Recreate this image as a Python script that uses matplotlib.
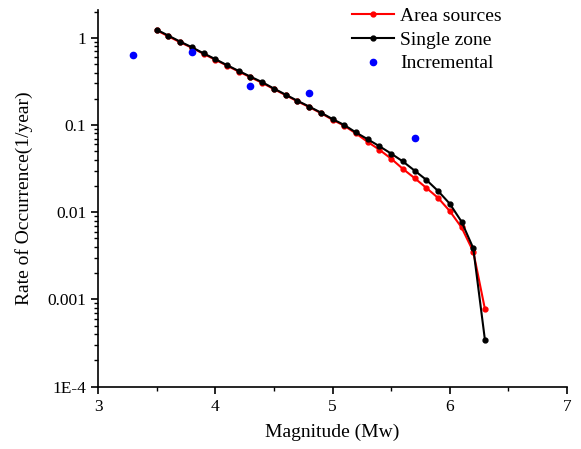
import matplotlib
matplotlib.use('Agg')
import matplotlib.pyplot as plt
from matplotlib.ticker import FixedLocator, FixedFormatter, LogLocator, MultipleLocator, NullFormatter

plt.rcParams['font.family'] = ['Liberation Serif', 'DejaVu Serif']

# magnitudes for the cumulative curves
mag = [3.5, 3.6, 3.7, 3.8, 3.9, 4.0, 4.1, 4.2, 4.3, 4.4, 4.5, 4.6, 4.7, 4.8, 4.9,
       5.0, 5.1, 5.2, 5.3, 5.4, 5.5, 5.6, 5.7, 5.8, 5.9, 6.0, 6.1, 6.2, 6.3]

area_sources = [1.22, 1.04, 0.89, 0.77, 0.655, 0.56, 0.48, 0.41, 0.353, 0.305,
                0.258, 0.22, 0.187, 0.161, 0.137, 0.115, 0.098, 0.080, 0.064,
                0.052, 0.0411, 0.0314, 0.0246, 0.019, 0.0146, 0.0103, 0.0067,
                0.00354, 0.00077]

single_zone = [1.24, 1.06, 0.906, 0.78, 0.664, 0.57, 0.486, 0.417, 0.359, 0.31,
               0.262, 0.223, 0.19, 0.163, 0.139, 0.117, 0.1, 0.0821, 0.0686,
               0.0571, 0.047, 0.0382, 0.030, 0.0235, 0.0175, 0.0125, 0.0078,
               0.00387, 0.00034]

# incremental rates
inc_mag = [3.3, 3.8, 4.3, 4.8, 5.7]
inc_rate = [0.634, 0.693, 0.279, 0.234, 0.0706]

ytick_vals = [1e-4, 1e-3, 1e-2, 1e-1, 1]
ytick_labels = ['1E-4', '0.001', '0.01', '0.1', '1']

fig = plt.figure(figsize=(5.81, 4.49), dpi=100)
ax = fig.add_axes([0.1687, 0.139, 0.8073, 0.8385])

ax.plot(mag, area_sources, color='red', lw=1.5, marker='o', ms=3.5, label='Area sources')
ax.plot(mag, single_zone, color='black', lw=1.5, marker='o', ms=3.5, label='Single zone')
ax.plot(inc_mag, inc_rate, ls='none', marker='o', ms=4.5, color='blue', label='Incremental')

ax.set_yscale('log')
ax.set_xlim(3, 7)
ax.set_ylim(1e-4, 2.08)

ax.xaxis.set_major_locator(MultipleLocator(1))
ax.xaxis.set_minor_locator(MultipleLocator(0.5))
ax.yaxis.set_major_locator(FixedLocator(ytick_vals))
ax.yaxis.set_major_formatter(FixedFormatter(ytick_labels))
ax.yaxis.set_minor_locator(LogLocator(base=10, subs=range(2, 10)))
ax.yaxis.set_minor_formatter(NullFormatter())

for s in ['top', 'right']:
    ax.spines[s].set_visible(False)
for s in ['left', 'bottom']:
    ax.spines[s].set_linewidth(1.2)

ax.tick_params(which='major', direction='out', length=5, width=1.2, labelsize=12.5)
ax.tick_params(which='minor', direction='out', length=3, width=1)
ax.tick_params(axis='x', pad=4)

ax.set_xlabel('Magnitude (Mw)', fontsize=14, labelpad=6)
ax.set_ylabel('Rate of Occurrence(1/year)', fontsize=14, labelpad=10)

ax.legend(loc='upper left', bbox_to_anchor=(0.575, 1.023), bbox_transform=fig.transFigure,
          frameon=False, fontsize=14, handlelength=2.2, handletextpad=0.3,
          labelspacing=0.32)

fig.savefig('out.png', dpi=100)
